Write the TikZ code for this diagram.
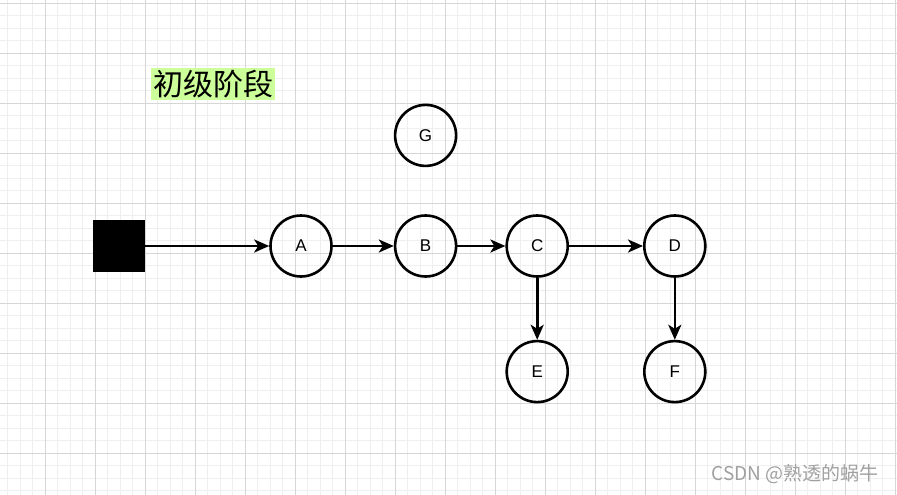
\documentclass[tikz,border=0pt]{standalone}
\usepackage{fontspec}
\setmainfont{Liberation Sans}
\newfontfamily\cjk{Noto Sans CJK SC}
\usetikzlibrary{positioning}
\usetikzlibrary{arrows.meta}
\definecolor{minorgrid}{RGB}{239,239,239}
\definecolor{majorgrid}{RGB}{214,214,214}
\definecolor{titlegreen}{RGB}{204,255,153}
\definecolor{markgray}{RGB}{160,160,160}
\tikzset{
   state/.style={circle, draw, line width=2.6pt, minimum size=61pt, inner sep=0pt, font=\fontsize{17}{17}\selectfont},
   edge/.style={-{Stealth[length=15pt,width=13pt,inset=4pt]}, line width=2.6pt}
}
\begin{document}
\begin{tikzpicture}[x=1pt,y=-1pt]
    \useasboundingbox (0,0) rectangle (897,495);
    \fill[white] (0,0) rectangle (897,495);
    % grid
    \foreach \x in {7.5,20,...,895} \draw[minorgrid, line width=1pt] (\x,0) -- (\x,495);
    \foreach \y in {3.3,15.8,...,495} \draw[minorgrid, line width=1pt] (0,\y) -- (897,\y);
    \foreach \x in {45,95,...,895} \draw[majorgrid, line width=1pt] (\x,0) -- (\x,495);
    \foreach \y in {3.3,53.3,...,495} \draw[majorgrid, line width=1pt] (0,\y) -- (897,\y);
    % title
    \node[fill=titlegreen, inner sep=2pt, font=\cjk\fontsize{30}{30}\selectfont] (title) at (213,84) {初级阶段};
    % nodes
    \node[fill=black, minimum size=52pt, inner sep=0pt] (start) at (119,246) {};
    \node[state] (A) at (301,246) {A};
    \node[state, right=61pt of A] (B) {B};
    \node[state, right=48pt of B] (C) {C};
    \node[state, right=74pt of C] (D) {D};
    \node[state, below=62pt of C] (E) {E};
    \node[state, below=62pt of D] (F) {F};
    \node[state, above=47pt of B] (G) {G};
    % edges
    \draw[edge] (start.east) -- (A.west);
    \draw[edge] (A.east) -- (B.west);
    \draw[edge] (B.east) -- (C.west);
    \draw[edge] (C.east) -- (D.west);
    \draw[edge] (C.south) -- (E.north);
    \draw[edge] (D.south) -- (F.north);
    % watermark
    \node[text=markgray, font=\cjk\fontsize{19}{19}\selectfont] (mark) at (795,474) {CSDN @熟透的蜗牛};
\end{tikzpicture}
\end{document}
